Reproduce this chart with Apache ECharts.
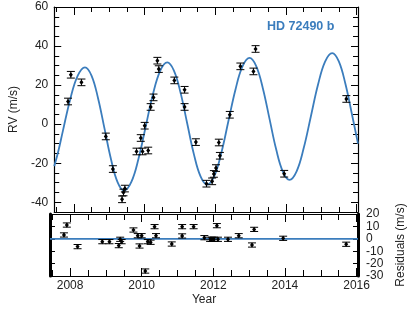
<!DOCTYPE html>
<html><head><meta charset="utf-8">
<script src="https://cdn.jsdelivr.net/npm/echarts@6/dist/echarts.min.js"></script>
<style>html,body{margin:0;padding:0;background:#fff}#c{width:415px;height:312px}</style>
</head><body><div id="c"></div>
<script>
// Observations
const obsYear = [2007.83,2007.91,2008.21,2008.90,2009.10,2009.36,2009.40,2009.44,2009.77,2009.89,2009.94,2010.00,2010.10,2010.17,2010.25,2010.36,2010.40,2010.84,2011.13,2011.13,2011.45,2011.75,2011.91,2011.96,2012.02,2012.10,2012.13,2012.41,2012.71,2013.08,2013.14,2013.95,2015.71];
const obsRV = [11.6,25.3,21.4,-6.3,-23.0,-38.5,-35.0,-33.0,-14.0,-7.1,-14.0,-0.8,-13.5,8.8,13.7,32.5,28.2,22.4,17.6,8.8,-9.2,-30.5,-29.3,-25.5,-22.5,-9.4,-16.2,4.8,29.6,27.0,38.5,-25.4,12.9];
const obsErr = [1.7,1.7,1.7,1.7,1.7,1.7,1.7,1.7,1.7,1.7,1.7,1.7,1.7,1.7,1.7,1.7,1.7,1.7,1.7,1.7,1.7,1.7,1.7,1.7,1.7,1.7,1.7,1.7,1.7,1.7,1.7,1.7,1.7];
const obsResid = [3.1,11.1,-6.3,-2.3,-2.3,-5.5,-0.4,-2.3,7.1,2.5,-5.8,2.5,-26.0,-2.3,-2.8,9.8,2.5,-4.2,9.8,2.3,9.8,0.9,-0.4,-0.4,-0.4,10.6,-0.4,-0.4,2.5,-5.0,7.6,0.4,-4.4];
// Model curve
const modelYear = [2007.44,2007.55,2007.685,2007.893,2008.102,2008.31,2008.495,2008.68,2008.865,2009.05,2009.235,2009.42,2009.623,2009.827,2010.03,2010.233,2010.437,2010.64,2010.828,2011.017,2011.205,2011.393,2011.582,2011.77,2011.97,2012.17,2012.37,2012.57,2012.77,2012.97,2013.158,2013.347,2013.535,2013.723,2013.912,2014.10,2014.302,2014.503,2014.705,2014.907,2015.108,2015.31,2015.497,2015.683,2015.87,2016.04];
const modelRV = [-21.5,-14.3,-3.45,12.8,24.7,29.1,24.9,13.3,-2.45,-18.2,-29.8,-34.0,-29.6,-17.6,-1.2,15.2,27.2,31.6,27.4,16.0,0.3,-15.35,-26.8,-31.0,-26.65,-14.75,1.45,17.65,29.55,33.9,29.7,18.3,2.7,-12.9,-24.3,-28.5,-24.15,-12.25,3.95,20.15,32.05,36.4,32.15,20.65,4.95,-10.0];
// Ticks
const xMajor = [2008,2010,2012,2014,2016];
const xMinor = [2007.5,2008,2008.5,2009,2009.5,2010,2010.5,2011,2011.5,2012,2012.5,2013,2013.5,2014,2014.5,2015,2015.5,2016];
const rvMajor = [-40,-20,0,20,40,60];
const rvMinor = [-45,-40,-35,-30,-25,-20,-15,-10,-5,0,5,10,15,20,25,30,35,40,45,50,55,60];
const resTicks = [-30,-20,-10,0,10,20];
const xRange = [2007.44, 2016.04];
const rvRange = [-45, 60];
const resRange = [-30, 20];

const BLUE = '#3b7dbd';
const FONT = 'Liberation Sans';
const chart = echarts.init(document.getElementById('c'), null, {renderer:'canvas'});

const noLine = {show:false, onZero:false};
const line1 = {show:true, onZero:false, lineStyle:{color:'#000', width:1.2}};
const line3 = {show:true, onZero:false, lineStyle:{color:'#000', width:3}};

function xAx(grid, pos, ticks, len, opts){
  return Object.assign({type:'value', gridIndex:grid, position:pos, min:xRange[0], max:xRange[1],
    axisLine:noLine, splitLine:{show:false},
    axisTick:{show:true, inside:true, length:len, customValues:ticks, lineStyle:{color:'#000',width:1}},
    axisLabel:{show:false}}, opts||{});
}
function yAx(grid, pos, range, ticks, len, opts){
  return Object.assign({type:'value', gridIndex:grid, position:pos, min:range[0], max:range[1],
    axisLine:noLine, splitLine:{show:false},
    axisTick:{show:true, inside:true, length:len, customValues:ticks, lineStyle:{color:'#000',width:1}},
    axisLabel:{show:false}}, opts||{});
}

function errItem(params, api){
  const x = api.value(0), y = api.value(1), e = api.value(2);
  const p = api.coord([x,y]), lo = api.coord([x,y-e]), hi = api.coord([x,y+e]);
  const w = 4, st = {stroke:'#000', lineWidth:1};
  return {type:'group', children:[
    {type:'line', shape:{x1:p[0],y1:lo[1],x2:p[0],y2:hi[1]}, style:st},
    {type:'line', shape:{x1:p[0]-w,y1:lo[1],x2:p[0]+w,y2:lo[1]}, style:st},
    {type:'line', shape:{x1:p[0]-w,y1:hi[1],x2:p[0]+w,y2:hi[1]}, style:st},
    {type:'polygon', shape:{points:[[p[0],p[1]-2.6],[p[0]+2,p[1]],[p[0],p[1]+2.6],[p[0]-2,p[1]]]}, style:{fill:'#000'}}
  ]};
}

const rvData = obsYear.map((t,i)=>[t, obsRV[i], obsErr[i]]);
const resData = obsYear.map((t,i)=>[t, obsResid[i], obsErr[i]]);
const modelData = modelYear.map((t,i)=>[t, modelRV[i]]);

chart.setOption({
  animation:false,
  textStyle:{fontFamily:FONT},
  grid:[
    {left:50, top:7, width:308, height:205},
    {left:50, top:214, width:308, height:62}
  ],
  xAxis:[
    xAx(0,'bottom',xMajor,8,{axisLine:line1}),
    xAx(0,'bottom',xMinor,5),
    xAx(0,'top',xMajor,8,{axisLine:line1}),
    xAx(0,'top',xMinor,5),
    xAx(1,'bottom',xMajor,8,{axisLine:line1, name:'Year', nameLocation:'middle', nameGap:18,
        nameTextStyle:{fontFamily:FONT, fontSize:12, color:'#222'},
        axisLabel:{show:true, customValues:xMajor, margin:4, fontFamily:FONT, fontSize:12, color:'#222',
          formatter:function(v){return String(Math.round(v));}}}),
    xAx(1,'bottom',xMinor,6),
    xAx(1,'top',xMajor,8,{axisLine:line1}),
    xAx(1,'top',xMinor,6)
  ],
  yAxis:[
    yAx(0,'left',rvRange,rvMajor,7,{axisLine:line1, name:'RV (m/s)', nameLocation:'middle', nameGap:31,
        nameTextStyle:{fontFamily:FONT, fontSize:12, color:'#222'},
        axisLabel:{show:true, customValues:rvMajor, margin:6, fontFamily:FONT, fontSize:12, color:'#222'}}),
    yAx(0,'left',rvRange,rvMinor,5),
    yAx(0,'right',rvRange,rvMajor,7,{axisLine:line1}),
    yAx(0,'right',rvRange,rvMinor,5),
    yAx(1,'left',resRange,resTicks,5,{axisLine:line3}),
    yAx(1,'right',resRange,resTicks,5,{axisLine:line3, name:'Residuals (m/s)', nameLocation:'middle', nameGap:35,
        nameRotate:90,
        nameTextStyle:{fontFamily:FONT, fontSize:12, color:'#222'},
        axisLabel:{show:true, customValues:resTicks, margin:8, fontFamily:FONT, fontSize:12, color:'#222', align:'left', lineHeight:12}})
  ],
  graphic:[
    {type:'text', left:267, top:20, style:{text:'HD 72490 b', fill:BLUE, font:'bold 12.5px "Liberation Sans"'}}
  ],
  series:[
    {type:'line', xAxisIndex:0, yAxisIndex:0, data:modelData, smooth:0.4, showSymbol:false,
      lineStyle:{color:BLUE, width:1.8}, clip:true, z:2},
    {type:'custom', xAxisIndex:0, yAxisIndex:0, data:rvData, renderItem:errItem, clip:true, z:3},
    {type:'line', xAxisIndex:4, yAxisIndex:4, data:[[xRange[0],0],[xRange[1],0]], showSymbol:false,
      lineStyle:{color:BLUE, width:1.8}, z:2},
    {type:'custom', xAxisIndex:4, yAxisIndex:4, data:resData, renderItem:errItem, clip:true, z:3}
  ]
});
</script></body></html>
